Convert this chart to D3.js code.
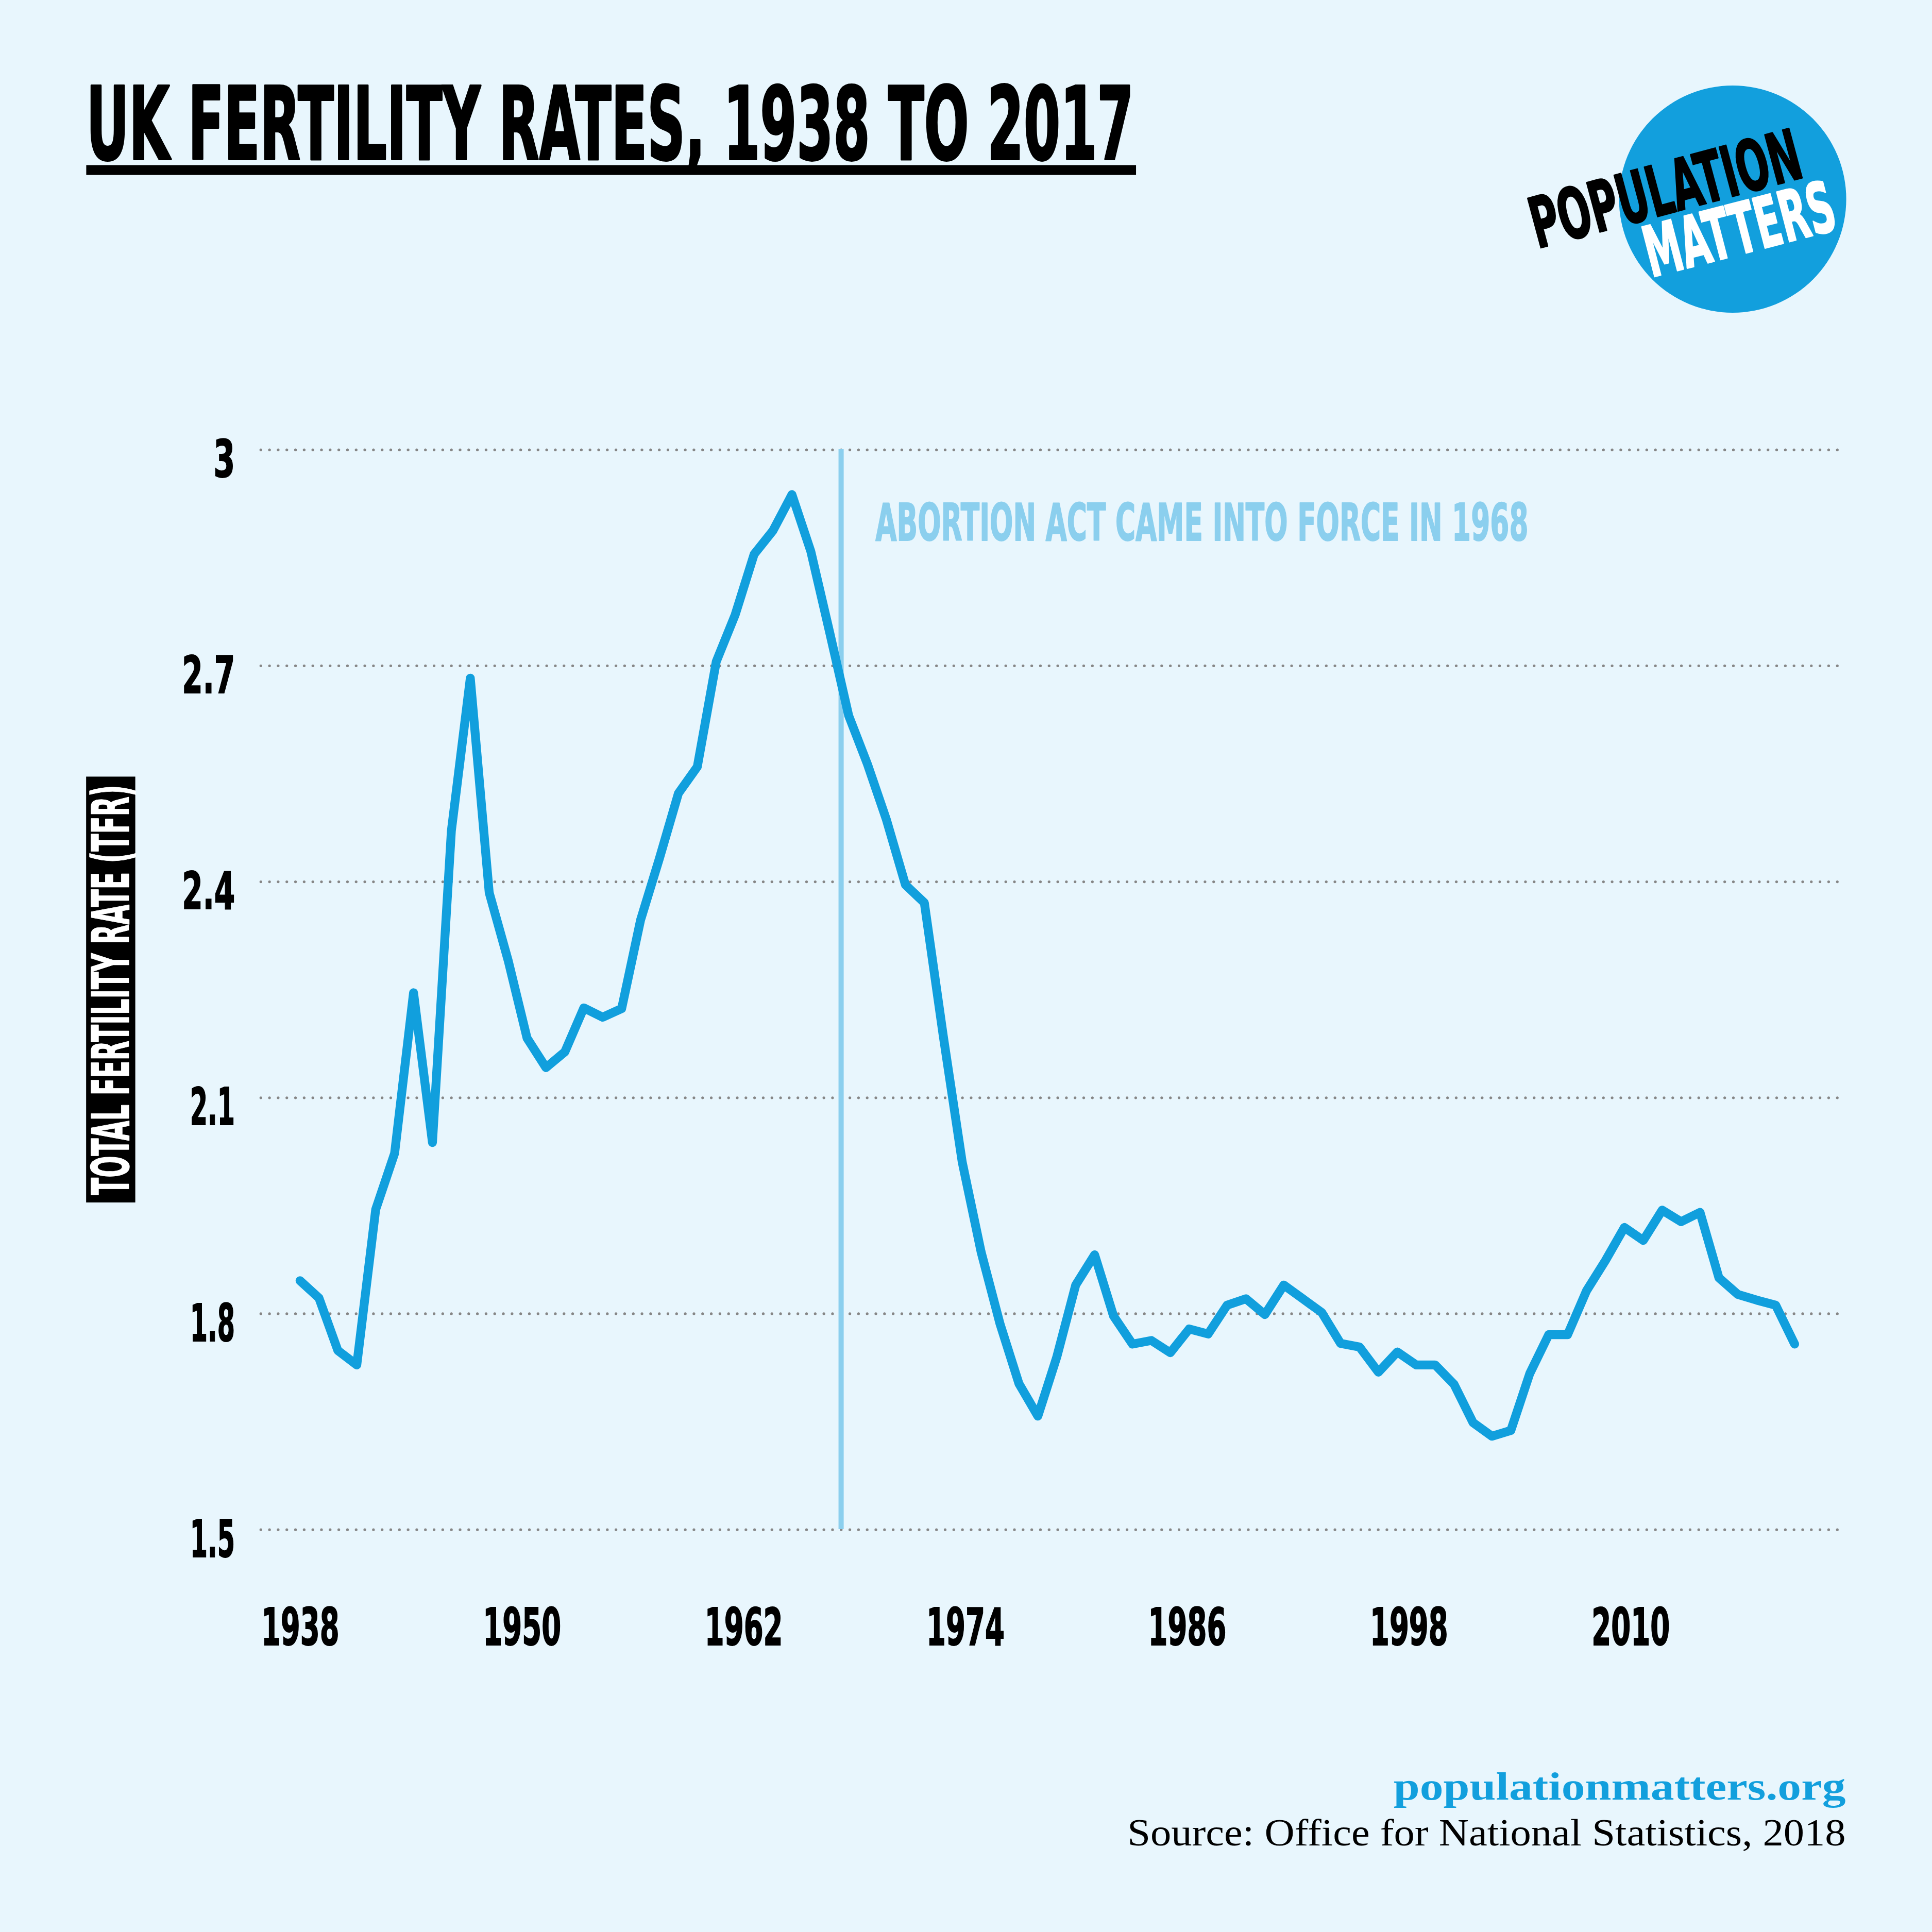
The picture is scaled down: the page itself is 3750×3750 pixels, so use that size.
<!DOCTYPE html>
<html>
<head>
<meta charset="utf-8">
<script src="https://cdn.jsdelivr.net/npm/d3@7"></script>
<style>
    body { margin: 0; background: #e8f6fd; }
    svg { display: block; }
</style>
</head>
<body>
<div id="chart"></div>
<script>

// chart values
const firstYear = 1938;
const tfrValues = [
    1.845, 1.821, 1.748, 1.728, 1.944, 2.022, 2.245, 2.037, 2.470, 2.682,   // 1938-1947
    2.384, 2.290, 2.182, 2.141, 2.163, 2.224, 2.211, 2.223, 2.346, 2.432,   // 1948-1957
    2.522, 2.559, 2.705, 2.770, 2.854, 2.887, 2.937, 2.858, 2.745, 2.630,   // 1958-1967
    2.562, 2.485, 2.395, 2.370, 2.185, 2.010, 1.885, 1.785, 1.702, 1.657,   // 1968-1977
    1.739, 1.839, 1.881, 1.796, 1.757, 1.762, 1.745, 1.778, 1.771, 1.811,   // 1978-1987
    1.820, 1.798, 1.839, 1.820, 1.801, 1.758, 1.753, 1.718, 1.746, 1.728,   // 1988-1997
    1.728, 1.701, 1.648, 1.629, 1.637, 1.716, 1.770, 1.770, 1.831, 1.873,   // 1998-2007
    1.919, 1.901, 1.943, 1.927, 1.940, 1.849, 1.826, 1.818, 1.811, 1.757    // 2008-2017
];
const yearTicks = [1938, 1950, 1962, 1974, 1986, 1998, 2010];
const tfrTicks = [1.5, 1.8, 2.1, 2.4, 2.7, 3];
// the marker in the source sits a bit left of 1968
const abortionLineYear = 1966.6;

const titleText = "UK FERTILITY RATES, 1938 TO 2017";
const annotationText = "ABORTION ACT CAME INTO FORCE IN 1968";
const yAxisTitle = "TOTAL FERTILITY RATE (TFR)";
const siteText = "populationmatters.org";
const sourceText = "Source: Office for National Statistics, 2018";

const condensed = "'Liberation Sans Narrow', 'DejaVu Sans Condensed', 'Roboto', sans-serif";
const serif = "'Liberation Serif', 'DejaVu Serif', serif";
const lineBlue = "#119fdd";
const paleBlue = "#8bcfee";

// rough width of a condensed label, so textLength can squeeze the fallback font
function labelWidth(str) {
    let w = 0;
    for (const c of str) {
        if (c === "1") w += 11;
        else if (c === ".") w += 8;
        else w += 17.5;
    }
    return w;
}

// squeeze a text horizontally to a wanted width (keeps its box honest, unlike textLength)
function fitText(parent, opts) {
    let t = parent.append("text")
        .attr("x", 0)
        .attr("y", 0)
        .attr("text-anchor", opts.anchor || "start")
        .attr("font-family", opts.font)
        .attr("font-weight", opts.weight || "normal")
        .attr("font-size", opts.size)
        .attr("fill", opts.fill)
        .text(opts.text);

    if (opts.stroke) {
        t.attr("stroke", opts.fill)
            .attr("stroke-width", opts.stroke)
            .attr("stroke-linejoin", "round");
    }

    const natural = t.node().getComputedTextLength();
    const sx = opts.width / natural;
    t.attr("transform", `translate(${opts.x},${opts.y}) rotate(${opts.rotate || 0}) scale(${sx},1)`);
    return t;
}

/* * * * * * * * * * * * * *
*      FertilityChart      *
* * * * * * * * * * * * * */

class FertilityChart {

    constructor(parentElement) {
        this.parentElement = parentElement;
        this.data = tfrValues.map((v, i) => ({ year: firstYear + i, tfr: v }));
        this.initVis();
    }

    initVis() {
        let vis = this;

        // the whole layout is drawn in a 1568 unit box and scaled up to the page
        vis.svg = d3.select("#" + vis.parentElement).append("svg")
            .attr("width", 3750)
            .attr("height", 3750)
            .attr("viewBox", "0 0 1568 1568");

        vis.svg.append("rect")
            .attr("width", 1568)
            .attr("height", 1568)
            .attr("fill", "#e8f6fd");

        // scales
        vis.x = d3.scaleLinear()
            .domain([firstYear, firstYear + tfrValues.length - 1])
            .range([243.5, 1456.5]);

        // year labels in the source are spaced a touch tighter than the line
        vis.xLabels = d3.scaleLinear()
            .domain([1938, 2010])
            .range([243.2, 1323]);

        vis.y = d3.scaleLinear()
            .domain([1.5, 3])
            .range([1241, 364.6]);

        // title + underline
        fitText(vis.svg, {
            text: titleText, x: 70, y: 129, width: 850,
            font: condensed, weight: "bold", size: 82, fill: "#000", stroke: 1.6
        });

        vis.svg.append("rect")
            .attr("x", 70)
            .attr("y", 134)
            .attr("width", 852)
            .attr("height", 8)
            .attr("fill", "#000");

        vis.drawLogo();

        // y axis with dotted gridlines
        vis.yAxis = d3.axisLeft(vis.y)
            .tickValues(tfrTicks)
            .tickFormat(d => String(d))
            .tickSize(-(1497 - 211.7))
            .tickPadding(21);

        let yG = vis.svg.append("g")
            .attr("class", "y-axis")
            .attr("transform", "translate(211.7,0)")
            .call(vis.yAxis);

        yG.select(".domain").remove();
        yG.selectAll(".tick line")
            .attr("stroke", "#868686")
            .attr("stroke-width", 2.2)
            .attr("stroke-linecap", "round")
            .attr("stroke-dasharray", "0 7.03");
        yG.selectAll(".tick text")
            .attr("dy", 22)
            .attr("font-family", condensed)
            .attr("font-weight", "bold")
            .attr("font-size", 42)
            .attr("fill", "#000")
            .attr("stroke", "#000")
            .attr("stroke-width", 0.8)
            .attr("textLength", d => labelWidth(String(d)))
            .attr("lengthAdjust", "spacingAndGlyphs");

        // x axis, labels only
        vis.xAxis = d3.axisBottom(vis.xLabels)
            .tickValues(yearTicks)
            .tickFormat(d => String(d))
            .tickSize(0)
            .tickPadding(0);

        let xG = vis.svg.append("g")
            .attr("class", "x-axis")
            .attr("transform", "translate(0,1335)")
            .call(vis.xAxis);

        xG.select(".domain").remove();
        xG.selectAll(".tick text")
            .attr("y", 0)
            .attr("dy", 0)
            .attr("font-family", condensed)
            .attr("font-weight", "bold")
            .attr("font-size", 42)
            .attr("fill", "#000")
            .attr("stroke", "#000")
            .attr("stroke-width", 0.8)
            .attr("textLength", d => labelWidth(String(d)))
            .attr("lengthAdjust", "spacingAndGlyphs");

        // y axis title in a black box
        vis.svg.append("rect")
            .attr("x", 69.9)
            .attr("y", 630.3)
            .attr("width", 39.9)
            .attr("height", 345.6)
            .attr("fill", "#000");

        fitText(vis.svg, {
            text: yAxisTitle, x: 104.7, y: 803.5, rotate: -90, anchor: "middle", width: 333,
            font: condensed, weight: "bold", size: 42, fill: "#fff", stroke: 0.6
        });

        // abortion act marker
        vis.svg.append("line")
            .attr("x1", vis.x(abortionLineYear))
            .attr("x2", vis.x(abortionLineYear))
            .attr("y1", vis.y(3))
            .attr("y2", vis.y(1.5))
            .attr("stroke", paleBlue)
            .attr("stroke-width", 4.2);

        fitText(vis.svg, {
            text: annotationText, x: 710.5, y: 438.6, width: 530,
            font: condensed, weight: "bold", size: 41.5, fill: paleBlue, stroke: 0.8
        });

        // footer
        fitText(vis.svg, {
            text: siteText, x: 1498, y: 1460.7, anchor: "end", width: 367,
            font: serif, weight: "bold", size: 32, fill: "#129fdd"
        });

        fitText(vis.svg, {
            text: sourceText, x: 1498, y: 1497.6, anchor: "end", width: 583,
            font: serif, size: 31, fill: "#000"
        });

        vis.updateVis();
    }

    drawLogo() {
        let vis = this;

        let logo = vis.svg.append("g").attr("class", "logo");

        logo.append("circle")
            .attr("cx", 1406.2)
            .attr("cy", 161.6)
            .attr("r", 92.2)
            .attr("fill", "#129fdd");

        fitText(logo, {
            text: "POPULATION", x: 1247.7, y: 201.9, rotate: -15, width: 225.5,
            font: condensed, weight: "bold", size: 57, fill: "#000", stroke: 1.2
        });

        fitText(logo, {
            text: "MATTERS", x: 1340.1, y: 225.2, rotate: -14.5, width: 158,
            font: condensed, weight: "bold", size: 57, fill: "#fff", stroke: 1.2
        });
    }

    updateVis() {
        let vis = this;

        vis.line = d3.line()
            .x(d => vis.x(d.year))
            .y(d => vis.y(d.tfr));

        vis.svg.append("path")
            .datum(vis.data)
            .attr("class", "tfr-line")
            .attr("d", vis.line)
            .attr("fill", "none")
            .attr("stroke", lineBlue)
            .attr("stroke-width", 7.2)
            .attr("stroke-linejoin", "round")
            .attr("stroke-linecap", "round");
    }
}

new FertilityChart("chart");

</script>
</body>
</html>
